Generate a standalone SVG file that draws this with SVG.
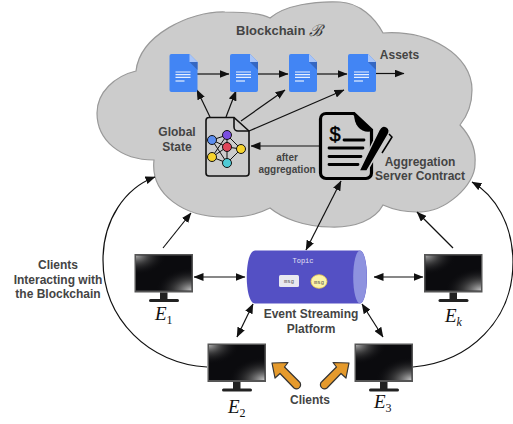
<svg xmlns="http://www.w3.org/2000/svg" xmlns:xlink="http://www.w3.org/1999/xlink" width="513" height="424" viewBox="0 0 513 424">
<style>
.l{font-family:"Liberation Sans",Arial,sans-serif;font-weight:700;fill:#444;text-anchor:middle;font-size:12px}
.m{font-family:"Liberation Serif","Times New Roman",serif;font-style:italic;fill:#111;font-size:19px}
.s{font-size:12px;font-style:normal}
.si{font-size:12px;font-style:italic}
.c{fill:none;stroke:#111;stroke-width:1.2}
.o{fill:#E59A2C;stroke:#333;stroke-width:1.2;stroke-linejoin:round}
.g{stroke:#111;stroke-width:1;fill:none}
.b{stroke:#111;stroke-width:1}
.k{stroke:#000;stroke-width:2.8;stroke-linecap:round}
</style>
<defs>
<marker id="a" viewBox="0 0 10 8" refX="9.5" refY="4" markerWidth="10" markerHeight="8" markerUnits="userSpaceOnUse" orient="auto-start-reverse"><path d="M0,0L10,4L0,8Z" fill="#111"/></marker>
<radialGradient id="g1" cx="0" cy="0" r=".55"><stop offset="0" stop-color="#aaa"/><stop offset=".45" stop-color="#555" stop-opacity=".6"/><stop offset="1" stop-color="#0b0b0e" stop-opacity="0"/></radialGradient>
<radialGradient id="g2" cx="1" cy="1" r=".65"><stop offset="0" stop-color="#c8c8c8"/><stop offset=".5" stop-color="#555" stop-opacity=".6"/><stop offset="1" stop-color="#0b0b0e" stop-opacity="0"/></radialGradient>
<g id="mon">
<rect x="0" y="0" width="58.500" height="38.500" fill="#555"/>
<rect x="1.500" y="1.500" width="55.500" height="35" fill="#0b0b0e"/>
<rect x="1.500" y="1.500" width="55.500" height="35" fill="url(#g1)"/>
<rect x="1.500" y="1.500" width="55.500" height="35" fill="url(#g2)"/>
<rect x="25.500" y="38.500" width="7.500" height="7" fill="#222"/>
<rect x="14.500" y="45" width="30" height="3" rx="1.500" fill="#222"/>
</g>
<g id="doc">
<path d="M2,0H20L28,8V36a2,2 0 0 1-2,2H2a2,2 0 0 1-2-2V2a2,2 0 0 1 2-2Z" fill="#4285F4"/>
<path d="M20,0V8H28Z" fill="#A9C5F8"/>
<path d="M20,8L28,16V8Z" fill="#3567C2"/>
<path d="M6,18H21M6,20.700H21M6,23.400H21" stroke="#E8F0FE" stroke-width="1.200"/>
<path d="M6,27H15" stroke="#E8F0FE" stroke-width="1.200"/>
</g>
</defs>
<rect width="513" height="424" fill="#fff"/>
<g id="cloud">
<path d="M136,71C140,35 190,11 225,12C245,12 262,14 270,18C285,5 315,1 340,2C360,3 375,18 383,33C430,30 472,55 472,90C472,105 468,115 460,125C472,138 476,150 475,163C476,185 445,213 417,212C405,212 392,209 383,205C375,220 355,228 330,227C305,227 282,218 270,208C250,218 235,217 223,217C185,217 150,195 154,160C120,160 97,140 97,113C97,92 115,76 136,71Z" fill="#CCCCCC" stroke="#999" stroke-width="1.200"/>
</g>
<g id="connectors">
<path class="c" d="M197,74H229" marker-end="url(#a)"/>
<path class="c" d="M258,74H288" marker-end="url(#a)"/>
<path class="c" d="M316,74H347" marker-end="url(#a)"/>
<path class="c" d="M376,73.500H404" marker-end="url(#a)"/>
<path class="c" d="M210,117L197,90" marker-end="url(#a)"/>
<path class="c" d="M226,117L236,91" marker-end="url(#a)"/>
<path class="c" d="M241,121L285,90" marker-end="url(#a)"/>
<path class="c" d="M249,131L344,90" marker-end="url(#a)"/>
<path class="c" d="M320,146H251" marker-end="url(#a)"/>
<path class="c" d="M306,250L341,181" marker-start="url(#a)" marker-end="url(#a)"/>
<path class="c" d="M163,248L191,213" marker-end="url(#a)"/>
<path class="c" d="M453,248L417,212" marker-end="url(#a)"/>
<path class="c" d="M194,277H245" marker-start="url(#a)" marker-end="url(#a)"/>
<path class="c" d="M374,277H423" marker-start="url(#a)" marker-end="url(#a)"/>
<path class="c" d="M237,337L253,304" marker-start="url(#a)" marker-end="url(#a)"/>
<path class="c" d="M362,304L383,337" marker-start="url(#a)" marker-end="url(#a)"/>
<path class="c" d="M207,367C150,364 103,320 103,260C103,220 125,188 155,177" marker-end="url(#a)"/>
<path class="c" d="M413,367C470,362 513,320 513,262C513,225 495,195 472,182" marker-end="url(#a)"/>
</g>
<g id="global-state">
<path d="M209,117.500H234L249,131V173a3,3 0 0 1-3,3H209a3,3 0 0 1-3-3V120.500a3,3 0 0 1 3-3Z" fill="#ccc" stroke="#111" stroke-width="1.600"/>
<path d="M234,117.500V127a4,4 0 0 0 4,4H249" fill="none" stroke="#111" stroke-width="1.600"/>
<path class="g" d="M212,140L227,147L241,149L227,135L212,140L227,163L241,149M227,135L227,163M212,157L227,135M212,157L227,163M227,147L212,157"/>
<circle class="b" cx="212" cy="140" r="4.500" fill="#5B8DEF"/>
<circle class="b" cx="227" cy="135" r="4.500" fill="#7B4FE0"/>
<circle class="b" cx="227" cy="147" r="4.500" fill="#E0465A"/>
<circle class="b" cx="241" cy="149" r="4.500" fill="#F6D32D"/>
<circle class="b" cx="212" cy="157" r="4.500" fill="#F6D32D"/>
<circle class="b" cx="227" cy="163" r="4.500" fill="#4FCBD6"/>
<text class="l" x="177" y="136">Global</text>
<text class="l" x="177" y="151">State</text>
</g>
<g id="contract">
<path d="M326,113.500H354L371.500,130V173a5.500,5.500 0 0 1-5.500,5.500H326a5.500,5.500 0 0 1-5.500-5.500V119a5.500,5.500 0 0 1 5.500-5.500Z" fill="#ccc" stroke="#000" stroke-width="3.200"/>
<path d="M354,113L373,131C363,134 354,128 354,113Z" fill="#000"/>
<text x="335" y="141" font-family="Liberation Sans,Arial,sans-serif" font-size="20" text-anchor="middle" fill="#000" stroke="#000" stroke-width=".5">$</text>
<path class="k" d="M344,140H364M329,148H363M329,156.500H361M329,164.500H358"/>
<path d="M359,171L379,130Q382,124 387,127Q391,130 388,135L367,171Z" fill="#000" stroke="#ccc" stroke-width="1.500"/>
<path d="M389,134L392,137L382,153" fill="none" stroke="#000" stroke-width="1.500"/>
</g>
<g id="documents">
<use xlink:href="#doc" href="#doc" x="169.500" y="54"/>
<use xlink:href="#doc" href="#doc" x="230" y="54"/>
<use xlink:href="#doc" href="#doc" x="289" y="54"/>
<use xlink:href="#doc" href="#doc" x="348" y="54"/>
</g>
<g id="cloud-labels">
<text class="l" x="236" y="35" style="text-anchor:start;font-size:13px">Blockchain</text>
<text x="315" y="36" font-family="DejaVu Serif,serif" font-style="italic" font-size="16" fill="#333" text-anchor="middle">ℬ</text>
<text class="l" x="399.500" y="59">Assets</text>
<text class="l" x="287" y="161" style="font-size:10px">after</text>
<text class="l" x="287" y="173" style="font-size:10px">aggregation</text>
<text class="l" x="420" y="166">Aggregation</text>
<text class="l" x="420" y="180">Server Contract</text>
</g>
<g id="platform">
<path d="M255,250.500H360A7,26.500 0 0 1 360,303.500H255C244,303.500 244,250.500 255,250.500Z" fill="#5450C4"/>
<ellipse cx="360" cy="277" rx="6.800" ry="26.500" fill="#8E92DF"/>
<text x="303" y="263" font-family="Liberation Mono,monospace" font-size="7" fill="#E4E4F4" text-anchor="middle">Topic</text>
<rect x="279" y="275" width="20" height="12" rx="1.500" fill="#E8E8F0"/>
<text x="289" y="283" font-family="Liberation Mono,monospace" font-size="5.500" fill="#555" text-anchor="middle">msg</text>
<ellipse cx="319" cy="281.500" rx="8" ry="6.800" fill="#FBF3A8" stroke="#E8C94A" stroke-width=".8"/>
<text x="319" y="284" font-family="Liberation Mono,monospace" font-size="5.500" fill="#555" text-anchor="middle">msg</text>
<text class="l" x="311" y="318">Event Streaming</text>
<text class="l" x="311" y="333">Platform</text>
</g>
<g id="e1"><use xlink:href="#mon" href="#mon" x="134.500" y="254"/><text class="m" x="155" y="320">E<tspan class="s" dy="4">1</tspan></text></g>
<g id="e2"><use xlink:href="#mon" href="#mon" x="207.500" y="343.500"/><text class="m" x="228" y="413">E<tspan class="s" dy="4">2</tspan></text></g>
<g id="e3"><use xlink:href="#mon" href="#mon" x="354.500" y="343.500"/><text class="m" x="374" y="408">E<tspan class="s" dy="4">3</tspan></text></g>
<g id="ek"><use xlink:href="#mon" href="#mon" x="424" y="254"/><text class="m" x="445" y="322">E<tspan class="si" dy="4">k</tspan></text></g>
<g id="clients">
<path class="o" d="M272,363L288,362.500L284.500,367L299,381.500A3,3 0 0 1 294,388L280,373.500L275,378Z"/>
<path class="o" d="M349,363L333,362.500L336.500,367L322,381.500A3,3 0 0 0 327,388L341,373.500L346,378Z"/>
<text class="l" x="310" y="404">Clients</text>
</g>
<g id="interacting-label">
<text class="l" x="58" y="269">Clients</text>
<text class="l" x="58" y="283.500">Interacting with</text>
<text class="l" x="58" y="298">the Blockchain</text>
</g>
</svg>
